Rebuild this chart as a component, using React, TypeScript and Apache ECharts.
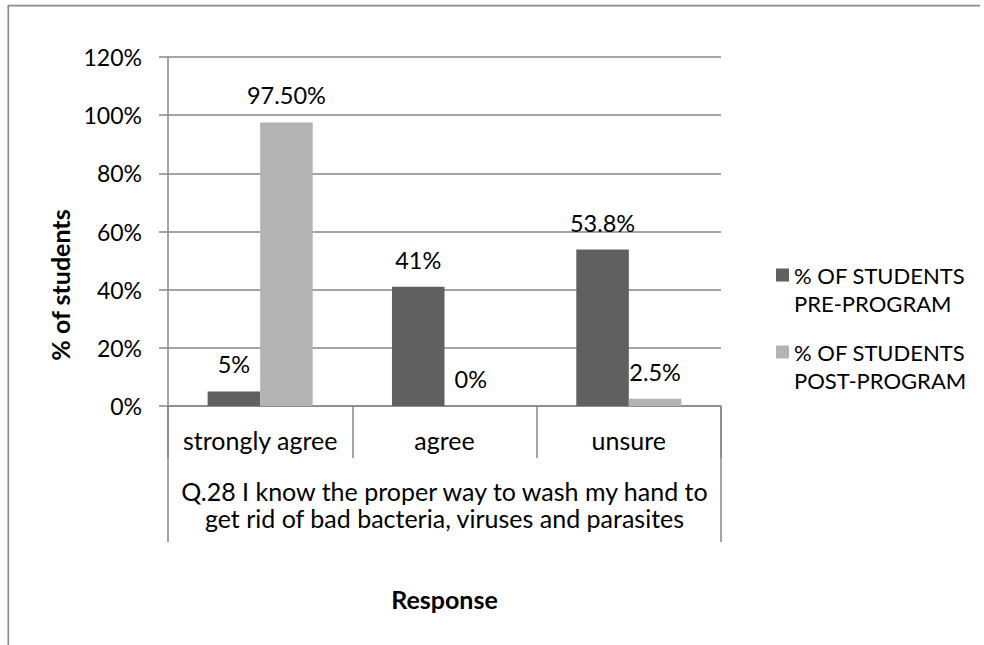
import React, { useEffect, useRef } from "react";
import * as echarts from "echarts";

const categories = ["strongly agree", "agree", "unsure"];
const groupLabels = [
  "Q.28 I know the proper way to wash my hand to\nget rid of bad bacteria, viruses and parasites",
];
const seriesNames = ["% OF STUDENTS\nPRE-PROGRAM", "% OF STUDENTS\nPOST-PROGRAM"];
const preValues = [5, 41, 53.8];
const postValues = [97.5, 0, 2.5];
const preLabels = ["5%", "41%", "53.8%"];
const postLabels = ["97.50%", "0%", "2.5%"];
const yMin = 0;
const yMax = 120;
const yStep = 20;
const xTitle = "Response";
const yTitle = "% of students";

const FONT = "Lato";
const AXIS_COLOR = "#878787";
// square marker at the top of a taller icon box, so it sits on the first text line
const LEGEND_ICON = "path://M0,0h13v13h-13Z M0,41h0.01";

export default function App() {
  const ref = useRef<HTMLDivElement>(null);
  useEffect(() => {
    if (!ref.current) return;
    const chart = echarts.init(ref.current, undefined, { renderer: "svg" });
    const labelStyle = {
      show: true,
      position: "top" as const,
      distance: 13,
      color: "#000",
      fontFamily: FONT,
      fontSize: 23.5,
      lineHeight: 28,
    };
    chart.setOption({
      animation: false,
      backgroundColor: "#fff",
      textStyle: { fontFamily: FONT },
      grid: { left: 168, right: 263, top: 57, bottom: 239, containLabel: false },
      legend: {
        orient: "vertical",
        left: 776,
        top: 261,
        padding: 0,
        itemWidth: 13,
        itemHeight: 41,
        itemGap: 21,
        icon: LEGEND_ICON,
        textStyle: {
          fontFamily: FONT,
          fontSize: 22,
          lineHeight: 28,
          color: "#000",
        },
        data: seriesNames,
      },
      xAxis: [
        {
          type: "category",
          data: categories,
          position: "bottom",
          axisLine: { show: true, lineStyle: { color: AXIS_COLOR, width: 1.5 } },
          axisTick: {
            show: true,
            interval: 0,
            length: 52,
            lineStyle: { color: AXIS_COLOR, width: 1.5 },
          },
          axisLabel: {
            interval: 0,
            margin: 20,
            color: "#000",
            fontFamily: FONT,
            fontSize: 25,
            lineHeight: 27,
          },
          splitLine: { show: false },
        },
        {
          type: "category",
          data: groupLabels,
          position: "bottom",
          axisLine: { show: false },
          axisTick: {
            show: true,
            interval: 0,
            length: 136,
            lineStyle: { color: AXIS_COLOR, width: 1.5 },
          },
          axisLabel: {
            interval: 0,
            margin: 71,
            color: "#000",
            fontFamily: FONT,
            fontSize: 25,
            lineHeight: 27,
            align: "center",
          },
          name: xTitle,
          nameLocation: "middle",
          nameGap: 180,
          nameTextStyle: {
            fontFamily: FONT,
            fontSize: 25,
            fontWeight: "bold",
            color: "#000",
          },
          splitLine: { show: false },
        },
      ],
      yAxis: {
        type: "value",
        min: yMin,
        max: yMax,
        interval: yStep,
        axisLine: { show: true, lineStyle: { color: AXIS_COLOR, width: 1.5 } },
        axisTick: { show: true, length: 9, lineStyle: { color: AXIS_COLOR, width: 1.5 } },
        axisLabel: {
          margin: 26,
          color: "#000",
          fontFamily: FONT,
          fontSize: 23,
          formatter: (v: number) => `${v}%`,
        },
        splitLine: { show: true, lineStyle: { color: AXIS_COLOR, width: 1.5 } },
      },
      series: [
        {
          name: seriesNames[0],
          type: "bar",
          data: preValues,
          barGap: "0%",
          barCategoryGap: "43%",
          itemStyle: { color: "#606060" },
          label: { ...labelStyle, formatter: (p: any) => preLabels[p.dataIndex] },
        },
        {
          name: seriesNames[1],
          type: "bar",
          data: postValues,
          barGap: "0%",
          barCategoryGap: "43%",
          itemStyle: { color: "#b3b3b3" },
          label: { ...labelStyle, formatter: (p: any) => postLabels[p.dataIndex] },
        },
      ],
      graphic: [
        {
          type: "line",
          shape: { x1: 8, y1: 5.7, x2: 980, y2: 5.7 },
          style: { stroke: "#8c8c8c", lineWidth: 1.7 },
        },
        {
          type: "line",
          shape: { x1: 8.3, y1: 5, x2: 8.3, y2: 645 },
          style: { stroke: "#8c8c8c", lineWidth: 1.7 },
        },
        {
          type: "text",
          x: 60,
          y: 285,
          rotation: Math.PI / 2,
          style: {
            text: yTitle,
            fontFamily: FONT,
            fontSize: 25,
            fontWeight: "bold",
            fill: "#000",
            textAlign: "center",
            textVerticalAlign: "middle",
          },
        },
      ],
    });
    return () => chart.dispose();
  }, []);
  return (
    <div
      ref={ref}
      style={{ position: "fixed", left: 0, top: 0, width: 984, height: 645 }}
    />
  );
}
